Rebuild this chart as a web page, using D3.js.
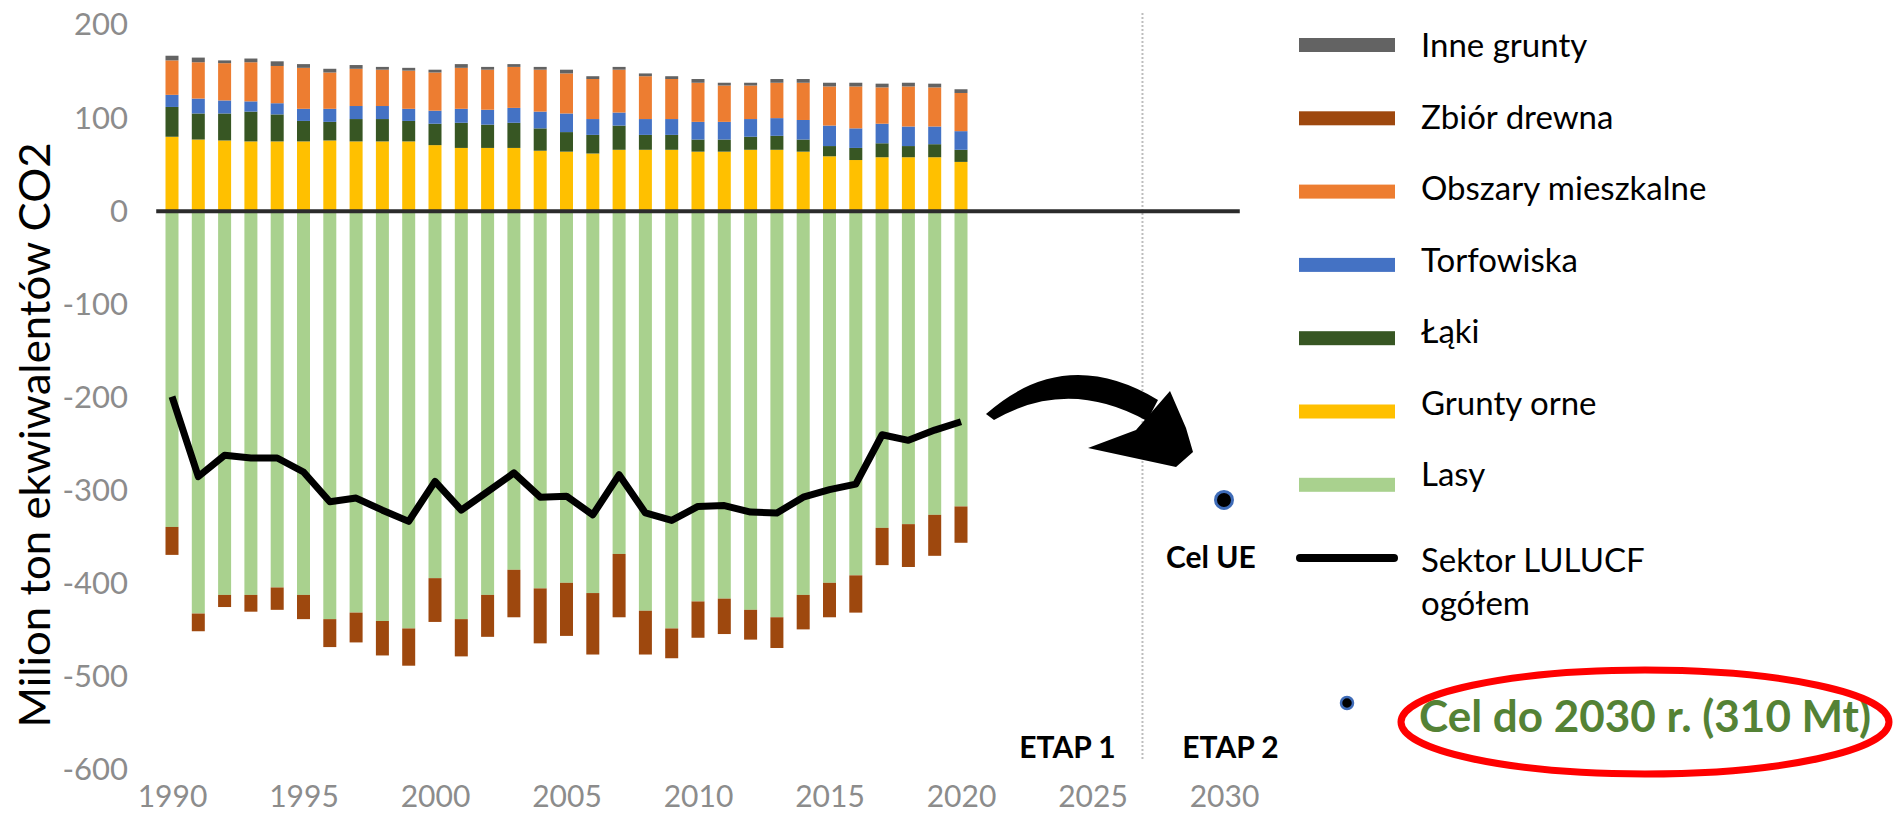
<!DOCTYPE html>
<html>
<head>
<meta charset="utf-8">
<script src="https://cdn.jsdelivr.net/npm/d3@7"></script>
<style>
  html, body { margin: 0; padding: 0; background: #fff; }
  svg { display: block; font-family: Lato, "Open Sans", "Liberation Sans", sans-serif; }
</style>
</head>
<body>
<svg id="chart" width="1896" height="815"></svg>
<script>
// Emisje i pochłanianie w sektorze LULUCF (mln t ekw. CO2), 1990–2020
const years = [1990, 1991, 1992, 1993, 1994, 1995, 1996, 1997, 1998, 1999,
               2000, 2001, 2002, 2003, 2004, 2005, 2006, 2007, 2008, 2009,
               2010, 2011, 2012, 2013, 2014, 2015, 2016, 2017, 2018, 2019, 2020];

const gruntyOrne        = [80, 77, 76, 75, 75, 75, 76, 75, 75, 75, 71, 68, 68, 68, 65, 64, 62, 66, 66, 66, 64, 64, 66, 66, 64, 59, 55, 58, 58, 58, 53];
const laki              = [32, 28, 29, 32, 29, 22, 20, 24, 24, 22, 23, 27, 25, 27, 24, 21, 20, 26, 16, 16, 13, 13, 14, 15, 13, 11, 13, 15, 12, 14, 13];
const torfowiska        = [13, 16, 14, 11, 12, 13, 14, 14, 14, 13, 14, 15, 16, 16, 18, 20, 17, 14, 17, 17, 19, 19, 19, 19, 21, 22, 21, 21, 21, 19, 20];
const obszaryMieszkalne = [37, 39, 40, 42, 40, 44, 39, 40, 39, 41, 41, 44, 43, 44, 45, 43, 43, 46, 46, 43, 42, 39, 36, 38, 40, 42, 45, 39, 43, 42, 41];
const inneGrunty        = [5, 5, 3, 4, 5, 4, 4, 4, 3, 3, 3, 4, 3, 3, 3, 4, 3, 3, 3, 3, 4, 3, 3, 4, 4, 4, 4, 4, 4, 4, 4];
const lasy              = [-339, -432, -412, -412, -404, -412, -438, -431, -440, -448, -394, -438, -412, -385, -405, -399, -410, -368, -429, -448, -419, -416, -428, -436, -412, -399, -391, -340, -336, -326, -317];
const zbiorDrewna       = [-30, -19, -13, -18, -24, -26, -30, -32, -37, -40, -47, -40, -45, -51, -59, -57, -66, -68, -47, -32, -39, -38, -32, -33, -37, -37, -40, -40, -46, -44, -39];
const sektorOgolem      = [-199, -285, -262, -265, -265, -280, -312, -308, -321, -333, -290, -321, -301, -281, -307, -306, -326, -283, -324, -332, -317, -316, -323, -324, -307, -299, -293, -240, -246, -235, -226];

// Cel UE na rok 2030
const celRok = [2030];
const celWartosc = [-310];

const yTicks = [-600, -500, -400, -300, -200, -100, 0, 100, 200];
const xTicks = [1990, 1995, 2000, 2005, 2010, 2015, 2020, 2025, 2030];

// Kolejność warstw: dodatnie od zera w górę, ujemne od zera w dół
const series = [
  { key: "gruntyOrne", label: "Grunty orne",        color: "#ffc000", values: gruntyOrne },
  { key: "laki",       label: "Łąki",               color: "#375623", values: laki },
  { key: "torfowiska", label: "Torfowiska",         color: "#4472c4", values: torfowiska },
  { key: "obszary",    label: "Obszary mieszkalne", color: "#ed7d31", values: obszaryMieszkalne },
  { key: "inne",       label: "Inne grunty",        color: "#636363", values: inneGrunty },
  { key: "lasy",       label: "Lasy",               color: "#a9d18e", values: lasy },
  { key: "zbior",      label: "Zbiór drewna",       color: "#9e480e", values: zbiorDrewna }
];
const legendOrder = ["inne", "zbior", "obszary", "torfowiska", "laki", "gruntyOrne", "lasy"];

const table = years.map((yr, i) => {
  const row = { year: yr };
  series.forEach(s => { row[s.key] = s.values[i]; });
  return row;
});

const svg = d3.select("#chart");

const x = d3.scaleLinear().domain([1990, 2030]).range([172, 1224]);
const y = d3.scaleLinear().domain([-600, 200]).range([770, 25]);
const barW = 13;

// Osie
const yAxis = svg.append("g")
  .attr("transform", "translate(134,0)")
  .call(d3.axisLeft(y).tickValues(yTicks).tickSize(0).tickPadding(6).tickFormat(d => String(d)));
yAxis.select(".domain").remove();
yAxis.selectAll("text")
  .attr("font-family", "Lato, 'Open Sans', sans-serif")
  .attr("font-size", 31).attr("fill", "#8c8c8c");

const xAxis = svg.append("g")
  .attr("transform", "translate(0,776)")
  .call(d3.axisBottom(x).tickValues(xTicks).tickSize(0).tickPadding(10).tickFormat(d => String(d)));
xAxis.select(".domain").remove();
xAxis.selectAll("text")
  .attr("font-family", "Lato, 'Open Sans', sans-serif")
  .attr("font-size", 30).attr("fill", "#8c8c8c");

// Tytuł osi Y
svg.append("text")
  .attr("transform", "translate(50,435) rotate(-90)")
  .attr("text-anchor", "middle")
  .attr("font-size", 43)
  .attr("textLength", 585)
  .attr("lengthAdjust", "spacingAndGlyphs")
  .attr("fill", "#000")
  .text("Milion ton ekwiwalentów CO2");

// Linia podziału na etapy
svg.append("line")
  .attr("x1", x(2026.9)).attr("x2", x(2026.9))
  .attr("y1", 13).attr("y2", 760)
  .attr("stroke", "#bdbdbd").attr("stroke-width", 2)
  .attr("stroke-dasharray", "2,2");

// Słupki skumulowane
const stack = d3.stack()
  .keys(series.map(s => s.key))
  .offset(d3.stackOffsetDiverging);
const layers = stack(table);

svg.append("g").selectAll("g")
  .data(layers)
  .join("g")
  .attr("fill", d => series.find(s => s.key === d.key).color)
  .selectAll("rect")
  .data(d => d)
  .join("rect")
  .attr("x", d => x(d.data.year) - barW / 2)
  .attr("width", barW)
  .attr("y", d => y(Math.max(d[0], d[1])))
  .attr("height", d => Math.abs(y(d[0]) - y(d[1])));

// Oś zera
svg.append("line")
  .attr("x1", x(1989.4)).attr("x2", x(2030.6))
  .attr("y1", y(0)).attr("y2", y(0))
  .attr("stroke", "#2b2b2b").attr("stroke-width", 4);

// Sektor LULUCF ogółem
const line = d3.line().x((d, i) => x(years[i])).y(d => y(d));
svg.append("path")
  .datum(sektorOgolem)
  .attr("d", line)
  .attr("fill", "none")
  .attr("stroke", "#000")
  .attr("stroke-width", 7)
  .attr("stroke-linejoin", "round");

// Strzałka w stronę celu
const arrow = svg.append("g").attr("fill", "#000");
arrow.append("path")
  .attr("d", "M986,414 Q1065,344 1158,400 L1147,421 Q1068,377 994,420 Z");
arrow.append("path")
  .attr("d", "M1088,448 L1136,430 L1170,391 L1186,428 L1193,452 L1176,467 Z");

// Cel UE
svg.append("g").selectAll("circle")
  .data(celRok)
  .join("circle")
  .attr("cx", d => x(d))
  .attr("cy", (d, i) => y(celWartosc[i]))
  .attr("r", 8.5)
  .attr("fill", "#000")
  .attr("stroke", "#3f6cb8")
  .attr("stroke-width", 3);

svg.append("text")
  .attr("x", x(2029.5)).attr("y", 568)
  .attr("text-anchor", "middle")
  .attr("font-size", 30).attr("font-weight", "bold")
  .text("Cel UE");

svg.append("text")
  .attr("x", x(2024.05)).attr("y", 758)
  .attr("text-anchor", "middle")
  .attr("font-size", 30).attr("font-weight", "bold")
  .text("ETAP 1");
svg.append("text")
  .attr("x", x(2030.25)).attr("y", 758)
  .attr("text-anchor", "middle")
  .attr("font-size", 30).attr("font-weight", "bold")
  .text("ETAP 2");

// Legenda
const legend = svg.append("g");
legendOrder.forEach((key, i) => {
  const s = series.find(d => d.key === key);
  legend.append("rect")
    .attr("x", 1299).attr("y", 45 + i * 73.3 - 7)
    .attr("width", 96).attr("height", 14)
    .attr("fill", s.color);
  legend.append("text")
    .attr("x", 1421).attr("y", 45 + i * 71.5 + 12)
    .attr("font-size", 33)
    .attr("fill", "#000")
    .text(s.label);
});
legend.append("line")
  .attr("x1", 1300).attr("x2", 1394)
  .attr("y1", 558).attr("y2", 558)
  .attr("stroke", "#000").attr("stroke-width", 8)
  .attr("stroke-linecap", "round");
legend.append("text")
  .attr("x", 1421).attr("y", 572)
  .attr("font-size", 33)
  .text("Sektor LULUCF");
legend.append("text")
  .attr("x", 1421).attr("y", 615)
  .attr("font-size", 33)
  .text("ogółem");
legend.append("circle")
  .attr("cx", 1347).attr("cy", 703).attr("r", 6)
  .attr("fill", "#000").attr("stroke", "#3f6cb8").attr("stroke-width", 2.5);
legend.append("text")
  .attr("x", 1419).attr("y", 732)
  .attr("font-size", 44).attr("font-weight", "bold")
  .attr("textLength", 452)
  .attr("lengthAdjust", "spacingAndGlyphs")
  .attr("fill", "#548235")
  .text("Cel do 2030 r. (310 Mt)");
legend.append("ellipse")
  .attr("cx", 1645).attr("cy", 722)
  .attr("rx", 244).attr("ry", 52)
  .attr("fill", "none")
  .attr("stroke", "#ff0000").attr("stroke-width", 7);
</script>
</body>
</html>
